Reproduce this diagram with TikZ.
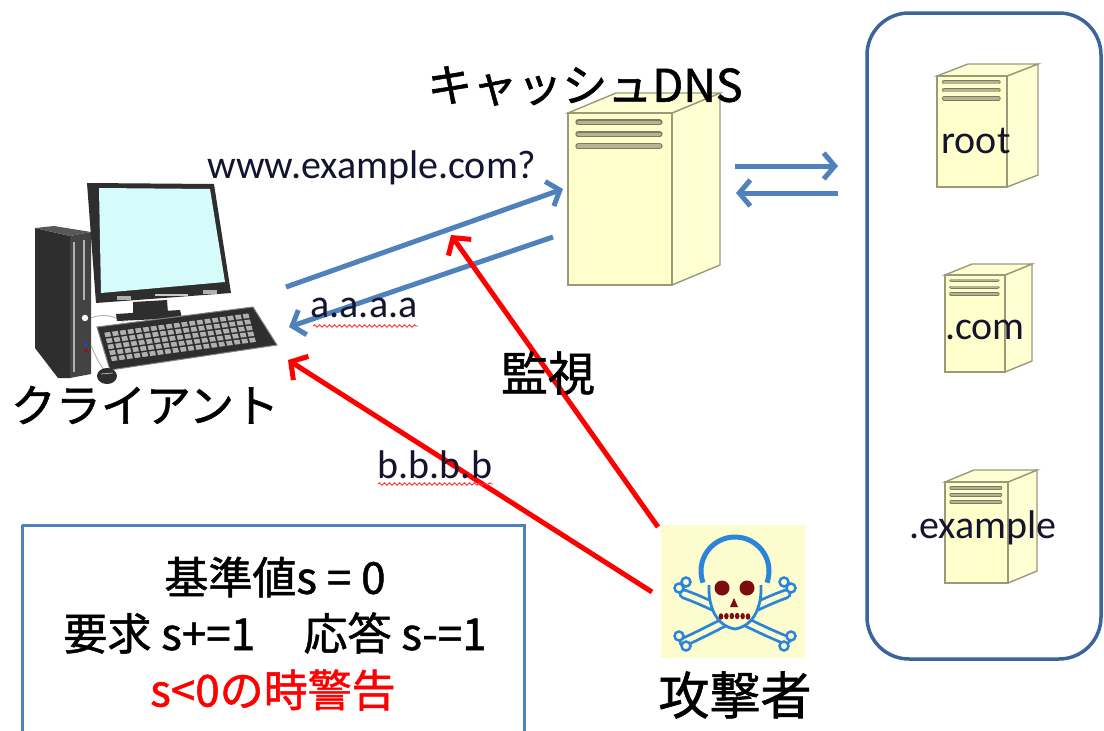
\documentclass[tikz,border=0pt]{standalone}
\usepackage{fontspec}
\setmainfont{Carlito}
\newfontfamily\jp[FakeBold=1.2]{Noto Sans CJK JP}
\usetikzlibrary{arrows.meta,decorations.pathmorphing,calc}

\definecolor{arrowblue}{HTML}{4F81BD}
\definecolor{frameblue}{HTML}{3B6499}
\definecolor{srvfront}{HTML}{FFFFCC}
\definecolor{srvside}{HTML}{FFFFD4}
\definecolor{srvedge}{HTML}{9A9A7A}
\definecolor{srvstripe}{HTML}{B4B494}
\definecolor{screencol}{HTML}{D6FBFB}
\definecolor{pcdark}{HTML}{2E2E2E}
\definecolor{pcgrey}{HTML}{B0B0B0}
\definecolor{iconbg}{HTML}{FCFCCF}
\definecolor{bonecol}{HTML}{2A84D8}
\definecolor{skullred}{HTML}{7A0E0E}
\definecolor{labelink}{HTML}{14142E}

\tikzset{
  bluearrow/.style={draw=arrowblue, line width=5pt,
    -{Straight Barb[length=11pt,width=26pt]}},
  redarrow/.style={draw=red, line width=5pt,
    -{Straight Barb[length=12pt,width=28pt]}},
  latinlabel/.style={font=\fontsize{40}{44}\selectfont, text=labelink, inner sep=0pt},
  jplabel/.style={font=\jp\fontsize{45}{50}\selectfont, inner sep=0pt},
  boxline/.style={font=\jp\fontsize{44}{50}\selectfont, inner sep=0pt},
  squiggle/.style={draw=red!80, line width=0.9pt,
    decorate, decoration={snake, amplitude=1.2pt, segment length=5pt}},
  % server cabinet, origin at the top-left corner of the front face
  % #1 width, #2 height, #3 depth offset x, #4 depth offset y
  pics/server/.style n args={4}{code={
    \filldraw[fill=srvside, draw=srvedge, line width=1.4pt]
      (#1,0) -- ++(#3,-#4) -- ++(0,#2) -- (#1,#2) -- cycle;
    \filldraw[fill=srvside, draw=srvedge, line width=1.4pt]
      (0,0) -- (#3,-#4) -- ++(#1,0) -- (#1,0) -- cycle;
    \filldraw[fill=srvfront, draw=srvedge, line width=1.4pt]
      (0,0) rectangle (#1,#2);
    \foreach \k in {0,1,2}{
      \draw[srvedge!80!black, line width={0.06*#1}, line cap=round]
        ({0.1*#1},{0.09*#1+\k*0.115*#1}) -- ({0.88*#1},{0.09*#1+\k*0.115*#1});
      \draw[srvstripe, line width={0.035*#1}, line cap=round]
        ({0.1*#1},{0.09*#1+\k*0.115*#1}) -- ({0.88*#1},{0.09*#1+\k*0.115*#1});
    }
  }}
}

\begin{document}
\begin{tikzpicture}[x=1pt, y=-1pt]
\useasboundingbox (0,0) rectangle (1104,731);
\fill[white] (0,0) rectangle (1104,731);

% ---------------- upstream name servers ----------------
\draw[frameblue, line width=3.5pt, rounded corners=42pt] (867,13) rectangle (1101,659);
\pic at (937,76) {server={70}{111}{31}{12}};
\pic at (945,275) {server={60}{97}{27}{11}};
\pic at (945,482) {server={63}{101}{29}{12}};
\node[latinlabel] (root) at (976,141) {root};
\node[latinlabel] (com) at (985,330) {.com};
\node[latinlabel] (example) at (983,528) {.example};

% ---------------- cache DNS ----------------
\pic at (568,113) {server={104}{172}{48}{20}};
\node[jplabel] (dnslabel) at (585,86) {キャッシュDNS};

% ---------------- client PC ----------------
% tower
\fill[pcdark] (35,228) -- (70,236) -- (70,378) -- (58,378) -- (35,348) -- cycle;
\fill[pcdark!80] (35,228) -- (54,226) -- (91,232) -- (70,236) -- cycle;
\fill[pcdark!90] (70,236) -- (91,232) -- (91,374) -- (70,378) -- cycle;
\draw[pcgrey, line width=2.2pt] (74,242) -- (74,372);
\draw[pcgrey, line width=2.2pt] (84,240) -- (84,300);
\fill[white] (85,318) circle (3.2);
\fill[blue!80] (86,344) circle (1.8);
\fill[red!70!black] (86,351) circle (1.8);
% cables
\draw[pcgrey, line width=0.9pt] (91,318) .. controls (105,312) and (118,318) .. (124,322);
\draw[pcgrey, line width=0.9pt] (91,345) .. controls (96,358) and (100,364) .. (104,370);
% monitor
\fill[pcdark] (87,183) -- (214,184) -- (231,293) -- (96,303) -- cycle;
\fill[screencol] (99,188) -- (210,189) -- (225,282) -- (101,293) -- cycle;
\fill[pcgrey] (117,296) rectangle (131,300);
\fill[pcgrey] (203,290) rectangle (217,294);
\fill[pcgrey!70] (155,294) rectangle (188,296);
\fill[pcdark] (133,302) -- (167,300) -- (168,313) -- (133,314) -- cycle;
\fill[pcdark] (116,314) -- (180,310) -- (182,318) -- (117,321) -- cycle;
% keyboard
\filldraw[fill=pcdark, draw=pcdark!60, line width=1pt]
  (97,327) -- (253,307) -- (277,345) -- (110,370) -- cycle;
\foreach \i in {0,...,18}{
  \foreach \j in {0,...,4}{
    \pgfmathsetmacro\px{103+(\i+0.14)*146/19+(\j+0.14)*8/5}
    \pgfmathsetmacro\py{332-(\i+0.14)*19.5/19+(\j+0.14)*30/5}
    \fill[pcgrey] (\px,\py) -- ++({0.74*146/19},{-0.74*19.5/19})
      -- ++({0.74*8/5},{0.74*30/5}) -- ++({-0.74*146/19},{0.74*19.5/19}) -- cycle;
  }
}
% mouse
\fill[pcdark] (107,376) ellipse (10 and 8);
\draw[pcgrey, line width=0.8pt] (101,374) -- (113,373);
\node[jplabel] (client) at (145,405) {クライアント};

% ---------------- attacker icon ----------------
\fill[iconbg] (661,525) rectangle (805,658);
\begin{scope}
  \draw[bonecol, line width=2.8pt, double=iconbg, double distance=5pt, line cap=round]
    (684,594) .. controls (715,605) and (755,628) .. (786,640);
  \draw[bonecol, line width=2.8pt, double=iconbg, double distance=5pt, line cap=round]
    (786,594) .. controls (755,605) and (715,628) .. (684,642);
  \foreach \p in {(679,588),(686,582),(679,636),(686,646),(791,588),(784,582),(791,636),(784,646)}
    \filldraw[fill=iconbg, draw=bonecol, line width=2.5pt] \p circle (4.5);
  \fill[iconbg] (735,598) ellipse (25 and 30);
  \draw[bonecol, line width=5pt] ($(735,571)+(160:34)$) arc[start angle=160, end angle=380, radius=34];
  \draw[bonecol, line width=2.8pt] (709,585) .. controls (708,606) and (716,626) .. (735,629)
    .. controls (754,626) and (762,606) .. (761,585);
  \fill[skullred] (722,588) circle (7.5);
  \fill[skullred] (747,588) circle (7.5);
  \fill[skullred] (734,598) -- (738,607) -- (730,607) -- cycle;
  \foreach \t in {0,...,5}
    \fill[skullred] ({721+\t*5.4},{616+0.08*(\t-2.5)*(\t-2.5)}) ellipse (2.3 and 3.2);
\end{scope}
\node[jplabel, font=\jp\fontsize{51}{56}\selectfont] (attacker) at (735,695) {攻撃者};

% ---------------- query / response arrows ----------------
\coordinate (clreq) at (286,287);
\coordinate (dnsreq) at (563,189);
\coordinate (dnsres) at (553,237);
\coordinate (clres) at (289,327);
\coordinate (upout) at (735,166);
\coordinate (upoutend) at (838,166);
\coordinate (upin) at (838,193);
\coordinate (upinend) at (736,193);
\draw[bluearrow] (clreq) -- (dnsreq);
\draw[bluearrow] (dnsres) -- (clres);
\draw[bluearrow] (upout) -- (upoutend);
\draw[bluearrow] (upin) -- (upinend);
\node[latinlabel] (qtext) at (372,168) {www.example.com?};
\node[latinlabel] (atext) at (364,308) {a.a.a.a};
\draw[squiggle] (313,326) -- (418,326);

% ---------------- attacker arrows ----------------
\coordinate (atkmon) at (658,527);
\coordinate (monend) at (451,235);
\coordinate (atkcl) at (652,592);
\coordinate (clspoof) at (288,360);
\draw[redarrow] (atkmon) -- (monend);
\draw[redarrow] (atkcl) -- (clspoof);
\node[jplabel, font=\jp\fontsize{47}{52}\selectfont] (watch) at (548,373) {監視};
\node[latinlabel] (btext) at (435,465) {b.b.b.b};
\draw[squiggle] (378,484) -- (493,484);

% ---------------- counter rule box ----------------
\draw[arrowblue, line width=3pt] (22,525) -- (524,525) -- (524,745) (22,745) -- (22,525);
\node[boxline] (rule1) at (275,577) {基準値s = 0};
\node[boxline] (rule2) at (275,633) {要求 s+=1\hspace{1.1em}応答 s-=1};
\node[boxline, text=red] (rule3) at (273,690) {s<0の時警告};
\end{tikzpicture}
\end{document}
